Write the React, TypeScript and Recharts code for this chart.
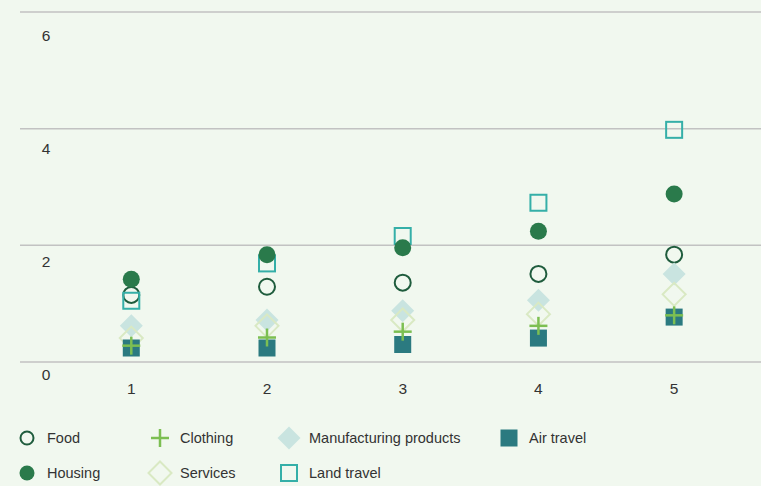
import React from 'react'
import { ScatterChart, Scatter, XAxis, YAxis, CartesianGrid } from 'recharts'

const CATEGORIES = [1, 2, 3, 4, 5]
const Y_TICKS = [0, 2, 4, 6]

const FOOD = [1.15, 1.29, 1.36, 1.51, 1.84]
const HOUSING = [1.42, 1.84, 1.96, 2.24, 2.88]
const CLOTHING = [0.28, 0.42, 0.52, 0.62, 0.8]
const SERVICES = [0.41, 0.62, 0.72, 0.82, 1.16]
const MANUFACTURING = [0.62, 0.72, 0.88, 1.06, 1.51]
const LAND_TRAVEL = [1.05, 1.69, 2.16, 2.73, 3.98]
const AIR_TRAVEL = [0.24, 0.24, 0.3, 0.41, 0.77]

type Kind = 'ring' | 'dot' | 'plus' | 'diamond' | 'diamondOutline' | 'squareOutline' | 'square'

// legend order (column by column)
const SERIES: { name: string; values: number[]; kind: Kind; color: string }[] = [
  { name: 'Food', values: FOOD, kind: 'ring', color: '#1f5c3d' },
  { name: 'Housing', values: HOUSING, kind: 'dot', color: '#2a7a4b' },
  { name: 'Clothing', values: CLOTHING, kind: 'plus', color: '#7cbf52' },
  { name: 'Services', values: SERVICES, kind: 'diamondOutline', color: '#d9e9c3' },
  { name: 'Manufacturing products', values: MANUFACTURING, kind: 'diamond', color: '#c9e4e0' },
  { name: 'Land travel', values: LAND_TRAVEL, kind: 'squareOutline', color: '#35afa8' },
  { name: 'Air travel', values: AIR_TRAVEL, kind: 'square', color: '#2b7a80' },
]

// drawing order, back to front
const DRAW_ORDER = ['Food', 'Land travel', 'Housing', 'Manufacturing products', 'Services', 'Air travel', 'Clothing']

const BG = '#f1f8ef'
const FONT = '"Liberation Sans", Arial, sans-serif'

function Marker({ kind, color, cx, cy, small }: { kind: Kind; color: string; cx: number; cy: number; small?: boolean }) {
  switch (kind) {
    case 'ring':
      return <circle cx={cx} cy={cy} r={small ? 6.5 : 8} fill='none' stroke={color} strokeWidth={2} />
    case 'dot':
      return <circle cx={cx} cy={cy} r={small ? 7.5 : 8.5} fill={color} />
    case 'plus':
      return (
        <g stroke={color} strokeWidth={2.5}>
          <line x1={cx - 9} y1={cy} x2={cx + 9} y2={cy} />
          <line x1={cx} y1={cy - 9} x2={cx} y2={cy + 9} />
        </g>
      )
    case 'diamond':
      return <polygon points={`${cx},${cy - 11.5} ${cx + 11.5},${cy} ${cx},${cy + 11.5} ${cx - 11.5},${cy}`} fill={color} />
    case 'diamondOutline':
      return (
        <polygon
          points={`${cx},${cy - 11.5} ${cx + 11.5},${cy} ${cx},${cy + 11.5} ${cx - 11.5},${cy}`}
          fill='none'
          stroke={color}
          strokeWidth={2}
        />
      )
    case 'squareOutline':
      return <rect x={cx - 8} y={cy - 8} width={16} height={16} fill='none' stroke={color} strokeWidth={2} />
    case 'square':
      return <rect x={cx - 8.5} y={cy - 8.5} width={17} height={17} fill={color} />
  }
}

function YTick({ x, y, payload }: any) {
  // labels sit under their gridlines, on a slightly tighter spacing
  const baseline = 380 - (362 - y) * 0.9686
  return (
    <text x={x + 26} y={baseline} textAnchor='middle' fontSize={15.5} fill='#333' fontFamily={FONT}>
      {payload.value}
    </text>
  )
}

function XTick({ x, y, payload }: any) {
  return (
    <text x={x} y={y + 32} textAnchor='middle' fontSize={15.5} fill='#333' fontFamily={FONT}>
      {payload.value}
    </text>
  )
}

const LEGEND_COLS = [14, 147, 276, 496]

export default function App() {
  const ordered = DRAW_ORDER.map((n) => SERIES.find((s) => s.name === n)!)
  return (
    <div style={{ position: 'absolute', left: 0, top: 0, width: 761, height: 486, background: BG, fontFamily: FONT }}>
      <ScatterChart width={761} height={400} margin={{ top: 12, right: 0, bottom: 0, left: 0 }}>
        <CartesianGrid vertical={false} stroke='#c2c2c2' strokeWidth={1.5} />
        <XAxis
          type='number'
          dataKey='x'
          domain={[0.18, 5.64]}
          ticks={CATEGORIES}
          allowDataOverflow
          axisLine={false}
          tickLine={false}
          tickSize={0}
          tickMargin={0}
          height={38}
          tick={<XTick />}
        />
        <YAxis
          type='number'
          dataKey='y'
          domain={[0, 6]}
          ticks={Y_TICKS}
          interval={0}
          axisLine={false}
          tickLine={false}
          tickSize={0}
          tickMargin={0}
          width={20}
          tick={<YTick />}
        />
        {ordered.map((s) => (
          <Scatter
            key={s.name}
            name={s.name}
            data={CATEGORIES.map((c, i) => ({ x: c, y: s.values[i] }))}
            isAnimationActive={false}
            shape={(p: any) => <Marker kind={s.kind} color={s.color} cx={p.cx} cy={p.cy} />}
          />
        ))}
      </ScatterChart>
      {SERIES.map((s, i) => {
        const left = LEGEND_COLS[Math.floor(i / 2)]
        const cy = i % 2 === 0 ? 438 : 473
        return (
          <div
            key={s.name}
            style={{ position: 'absolute', left, top: cy - 13, height: 26, display: 'flex', alignItems: 'center' }}
          >
            <svg width={26} height={26} style={{ display: 'block' }}>
              <Marker kind={s.kind} color={s.color} cx={13} cy={13} small />
            </svg>
            <span style={{ marginLeft: 7, fontSize: 14.5, color: '#333', whiteSpace: 'nowrap' }}>{s.name}</span>
          </div>
        )
      })}
    </div>
  )
}
